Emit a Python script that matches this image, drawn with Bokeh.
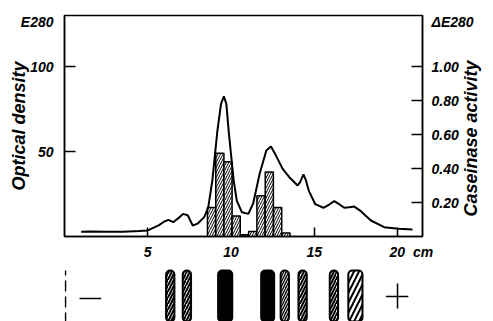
import numpy as np
from bokeh.plotting import figure
from bokeh.models import (LinearAxis, Range1d, FixedTicker,
                          PrintfTickFormatter, ColumnDataSource)
from bokeh.layouts import column
from bokeh.embed import file_html
from bokeh.resources import INLINE

# Optical density (E280) of the eluate along the gel, position in cm
od_cm = [1.0, 1.5, 2.5, 3.5, 4.5, 5.0, 5.65, 6.0, 6.24, 6.53, 6.8, 7.12, 7.4,
         7.7, 8.0, 8.39, 8.63, 8.88, 9.18, 9.4, 9.57, 9.72, 9.86, 10.16, 10.35,
         10.65, 11.04, 11.33, 11.72, 12.12, 12.4, 12.7, 13.1, 13.5, 14.0, 14.15,
         14.35, 14.5, 14.67, 15.06, 15.55, 15.9, 16.2, 16.5, 16.8, 17.1, 17.4,
         17.8, 18.4, 19.2, 20.06, 20.9]
od_val = [2.8, 3.0, 2.8, 2.8, 3.2, 3.6, 6.5, 8.8, 9.8, 8.4, 10.5, 13.3, 12.5,
          6.5, 7.6, 11.4, 17.0, 33.0, 62.0, 78.0, 82.4, 78.0, 62.0, 33.0, 21.0,
          14.3, 13.3, 19.4, 36.9, 50.6, 53.0, 47.6, 39.8, 34.9, 30.0, 32.0,
          36.5, 33.0, 27.0, 19.0, 16.9, 18.8, 20.8, 19.0, 16.9, 17.2, 17.6,
          14.9, 9.4, 5.5, 4.5, 4.1]

# Caseinase activity (delta E280) of 0.5 cm gel slices
slice_cm = [8.83, 9.33, 9.82, 10.31, 10.80, 11.30, 11.80, 12.30, 12.80, 13.30]
slice_act = [0.17, 0.49, 0.44, 0.12, 0.01, 0.03, 0.24, 0.38, 0.17, 0.02]
slice_width = 0.49

x_ticks = [5, 10, 15, 20]
od_ticks = [50, 100]
act_ticks = [0.2, 0.4, 0.6, 0.8, 1.0]

# Stained protein bands of the gel, position and width in cm
band_cm = [6.35, 7.35, 9.65, 12.2, 13.23, 14.3, 16.18, 17.47]
band_width = [0.5, 0.5, 0.85, 0.78, 0.5, 0.5, 0.5, 0.85]
band_kind = ["hatch", "hatch", "solid", "solid", "dense", "hatch", "hatch", "coarse"]

FONT = "Liberation Sans"
NBSP = "\u00a0"
X_MAX, OD_MAX, ACT_MAX = 21.5, 130, 1.30
# the last x label reads "20 cm"; it is centred a little right of its tick
LAST_X_LABEL_AT = 20.83
OD_UNIT_AT, ACT_UNIT_AT = 125.9, 1.259

p = figure(width=493, height=262, x_range=Range1d(0, X_MAX), y_range=Range1d(0, OD_MAX),
           output_backend="svg", toolbar_location=None,
           min_border_left=64, min_border_right=63, min_border_top=15, min_border_bottom=26)
p.extra_y_ranges = {"act": Range1d(0, ACT_MAX)}
p.grid.visible = False
p.outline_line_color = "black"
p.outline_line_width = 1.5
p.background_fill_color = "white"
p.border_fill_color = "white"


def style_axis(ax, tick_len):
    # tick marks come from the minor ticks; major ticks only carry the labels
    ax.major_tick_in = 0
    ax.major_tick_out = 0
    ax.major_tick_line_color = None
    ax.minor_tick_in = tick_len
    ax.minor_tick_out = 0
    ax.minor_tick_line_width = 1.5
    ax.minor_tick_line_color = "black"
    ax.axis_line_color = "black"
    ax.axis_line_width = 1.5
    ax.major_label_text_font = FONT
    ax.major_label_text_font_style = "bold italic"
    ax.major_label_text_font_size = "14px"
    ax.major_label_text_color = "black"
    ax.axis_label_text_font = FONT
    ax.axis_label_text_font_style = "bold italic"
    ax.axis_label_text_font_size = "18px"
    ax.axis_label_text_color = "black"


xa = p.xaxis[0]
xa.ticker = FixedTicker(ticks=x_ticks[:-1] + [LAST_X_LABEL_AT], minor_ticks=x_ticks)
style_axis(xa, 9)
xa.major_label_standoff = 7
xa.major_label_overrides = {LAST_X_LABEL_AT: f"{x_ticks[-1]}{NBSP * 2}cm"}

ya = p.yaxis[0]
ya.ticker = FixedTicker(ticks=od_ticks + [OD_UNIT_AT], minor_ticks=od_ticks)
style_axis(ya, 11)
ya.major_label_standoff = 11
ya.major_label_overrides = {OD_UNIT_AT: "E280"}
ya.axis_label = "Optical density"
ya.axis_label_standoff = -11

ra = LinearAxis(y_range_name="act",
                ticker=FixedTicker(ticks=act_ticks + [ACT_UNIT_AT], minor_ticks=act_ticks),
                formatter=PrintfTickFormatter(format="%.2f"))
style_axis(ra, 11)
ra.major_label_standoff = 9
ra.major_label_overrides = {ACT_UNIT_AT: "\u0394E280"}
ra.axis_label = NBSP * 4 + "Caseinase activity"
ra.axis_label_standoff = -6
if "axis_label_orientation" in ra.properties():
    ra.axis_label_orientation = np.pi / 2
for choice in ("start", "left"):
    try:
        ra.axis_label_align = choice
        break
    except Exception:
        pass
p.add_layout(ra, "right")

# activity histogram (hatched) and the optical density trace
act_src = ColumnDataSource(dict(
    left=np.array(slice_cm) - slice_width / 2,
    right=np.array(slice_cm) + slice_width / 2,
    top=slice_act))
p.quad(left="left", right="right", bottom=0, top="top", source=act_src,
       y_range_name="act", fill_color="white", hatch_pattern="/",
       hatch_color="black", hatch_scale=5, hatch_weight=1,
       line_color="black", line_width=1.5)
p.line(od_cm, od_val, line_color="black", line_width=2)

# gel strip underneath
g = figure(width=493, height=59, x_range=p.x_range, y_range=Range1d(0, 59),
           output_backend="svg", toolbar_location=None,
           x_axis_type=None, y_axis_type=None,
           min_border_left=64, min_border_right=63, min_border_top=0, min_border_bottom=0)
g.grid.visible = False
g.outline_line_color = None
g.background_fill_color = "white"
g.border_fill_color = "white"

bx = np.array(band_cm)
bw = np.array(band_width)
kind = np.array(band_kind)
styles = {
    "hatch": dict(fill_color="white", hatch_pattern="/", hatch_color="black",
                  hatch_scale=6, hatch_weight=2),
    "coarse": dict(fill_color="white", hatch_pattern="/", hatch_color="black",
                   hatch_scale=10, hatch_weight=2),
    "dense": dict(fill_color="black", hatch_pattern="/", hatch_color="white",
                  hatch_scale=5, hatch_weight=1),
    "solid": dict(fill_color="black"),
}
for k, st in styles.items():
    m = kind == k
    g.vbar(x=bx[m], width=bw[m], bottom=-10, top=51, line_color="black",
           line_width=2, border_radius=4, **st)

# start line of the gel and the electrode signs
g.segment(x0=[0.06], y0=[-2], x1=[0.06], y1=[51], line_color="black",
          line_width=1.5, line_dash="11 5")
g.segment(x0=[0.9], y0=[23], x1=[2.2], y1=[23], line_color="black", line_width=1.5)
g.segment(x0=[19.3, 20.0], y0=[25, 13], x1=[20.65, 20.0], y1=[25, 38],
          line_color="black", line_width=1.5)

layout = column(p, g, spacing=0)
open("out.html", "w").write(file_html(layout, INLINE))
